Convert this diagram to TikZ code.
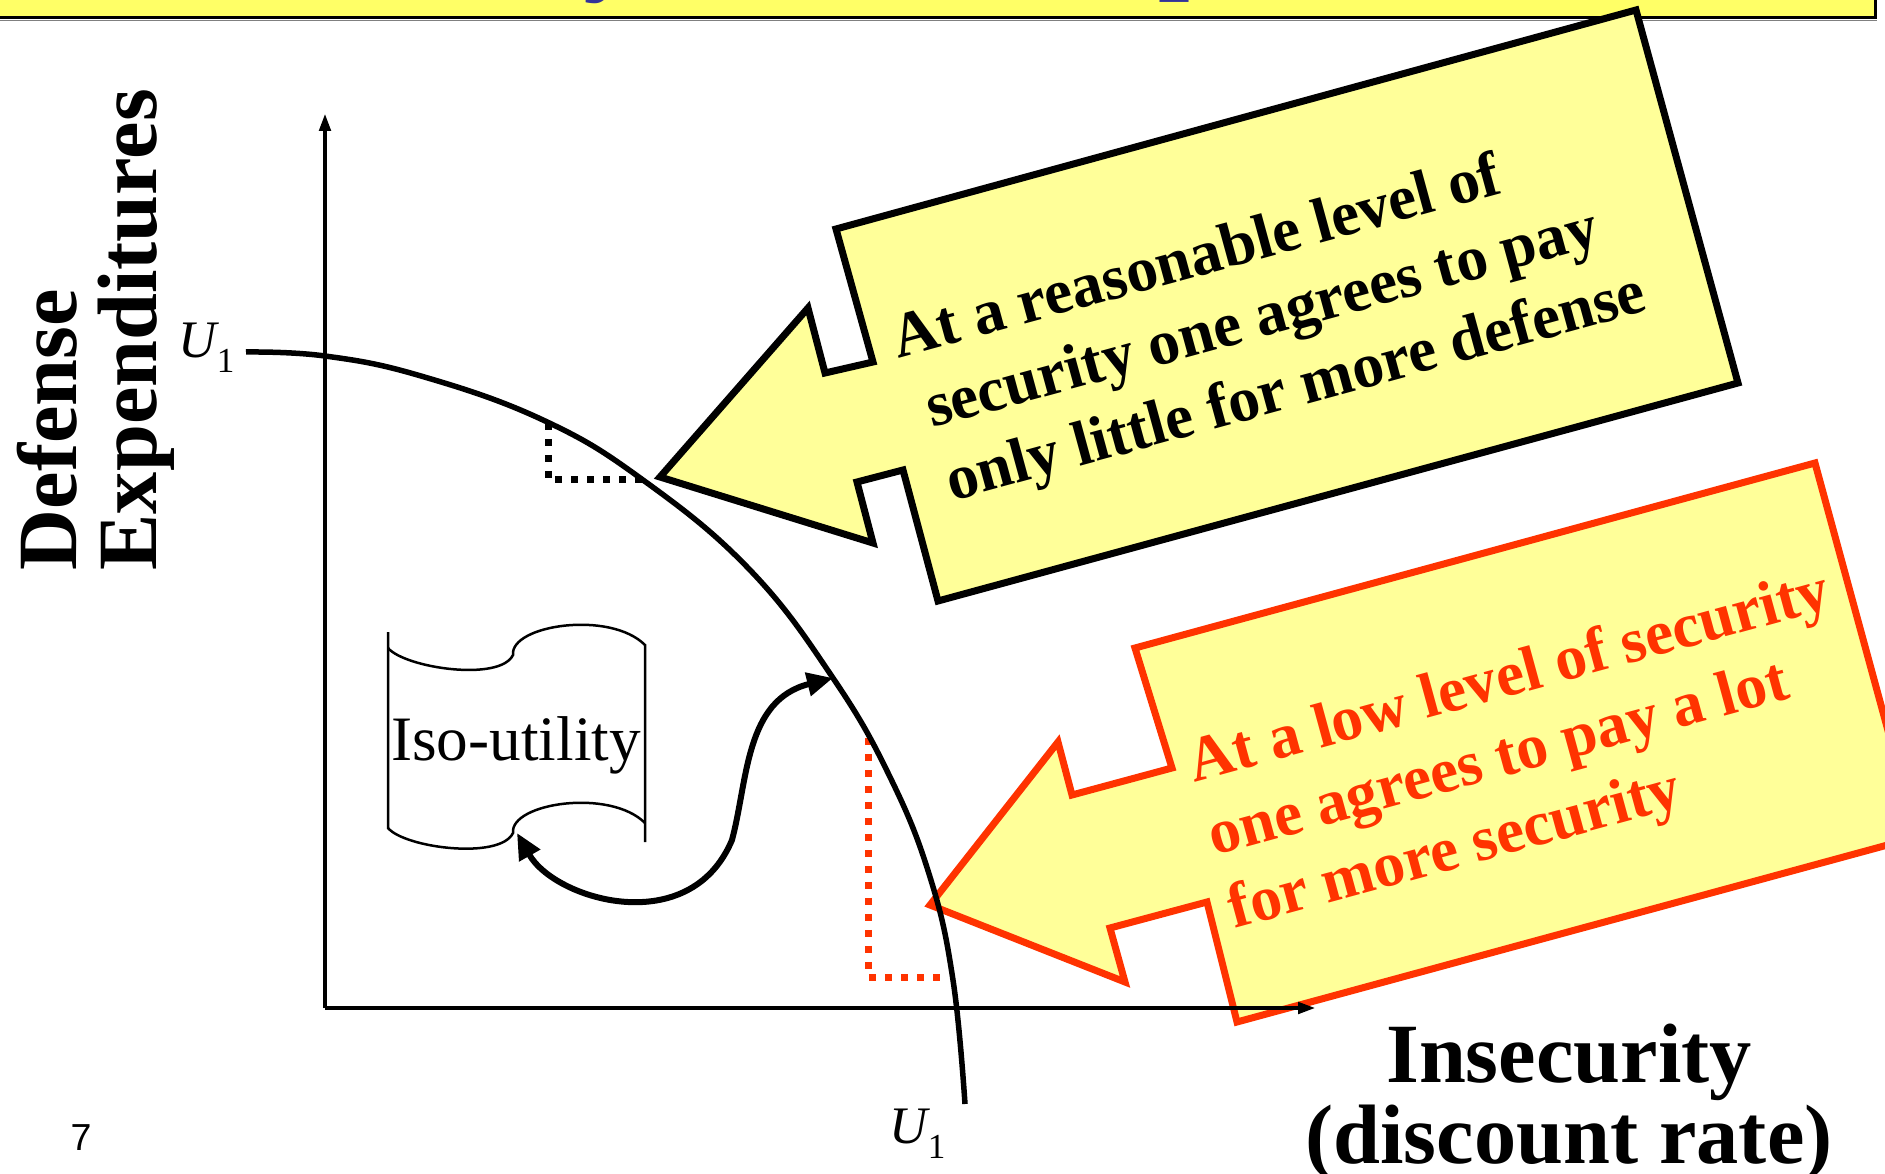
\documentclass[tikz,border=0pt]{standalone}
\usepackage{fontspec}
\setmainfont{Liberation Serif}
\newfontfamily\slidesans{Liberation Sans}
\usetikzlibrary{arrows.meta, positioning}
\definecolor{bannerylw}{HTML}{FFFF66}
\definecolor{calloutylw}{HTML}{FFFF99}
\definecolor{myred}{HTML}{FF3300}
\definecolor{myblue}{HTML}{333399}
\tikzset{
  axis/.style={line width=0.45mm, -{Triangle[length=1.8mm, width=1.1mm]}},
  isocurve/.style={line width=0.55mm},
  marker/.style={line width=0.7mm, dash pattern=on 0.7mm off 0.9mm},
  callout/.style={line width=0.7mm, fill=calloutylw, line join=miter},
  callouttext/.style={rotate=15.3, anchor=north west, align=left, inner sep=0pt,
    font=\bfseries\fontsize{18}{21.6}\selectfont},
  bigbold/.style={inner sep=0pt, font=\bfseries\fontsize{24}{23}\selectfont},
  ulabel/.style={anchor=base west, inner sep=0pt, font=\fontsize{15}{18}\selectfont},
  titlebit/.style={anchor=base, text=myblue, font=\bfseries\fontsize{32}{32}\selectfont},
  scroll/.style={line width=0.25mm},
  linkarrow/.style={line width=0.6mm,
    {Triangle[length=2.6mm, width=2.3mm]}-{Triangle[length=2.6mm, width=2.3mm]}}
}

\begin{document}
\begin{tikzpicture}[x=0.1mm, y=-0.1mm]
  \useasboundingbox (0,0) rectangle (1885,1174);

  % ── Title banner (cut off at the top) ─────────────────────────────────────
  \fill[bannerylw] (0,0) rectangle (1875,18);
  \begin{scope}
    \clip (0,0) rectangle (1875,18);
    \node[titlebit] (titley) at (612,-20) {y};
    \node[titlebit] (titlep) at (1190,-21) {p};
  \end{scope}
  \draw[line width=0.3mm] (0,18) -- (1875,18) -- (1875,0);
  \draw[gray, line width=0.15mm] (0,20.5) -- (1877,20.5);

  % ── Callouts ─────────────────────────────────────────────────────────────
  \draw[callout] (836,229) -- (1636,10) -- (1738,383) -- (938,601) -- (903,470)
    -- (857,482) -- (873,543) -- (660,477) -- (808,308) -- (825,373) -- (873,362) -- cycle;
  \node[callouttext] (reasonable) at (882,316)
    {\hspace*{0.4mm}At a reasonable level of\\\hspace*{1.8mm}security one agrees to pay\\\hspace*{1.8mm}only little for more defense};

  \draw[callout, draw=myred] (1135,648) -- (1815,463) -- (1917,837) -- (1237,1022) -- (1207,902)
    -- (1110,928) -- (1125,982) -- (930,905) -- (1058,742) -- (1072,795) -- (1172,768) -- cycle;
  \node[callouttext, text=myred] (lowlevel) at (1182,739)
    {At a low level of security\\one agrees to pay a lot\\for more security};

  % ── Right-angle markers ──────────────────────────────────────────────────
  \draw[marker] (548,423) -- (548,480) -- (643,480);
  \draw[marker, myred] (868,738) -- (868,977) -- (947,977);

  % ── Axes ─────────────────────────────────────────────────────────────────
  \coordinate (O) at (325,1008);
  \coordinate (ytop) at (325,113);
  \coordinate (xend) at (1316,1008);
  \draw[axis] (O) -- (ytop);
  \draw[axis] (O) -- (xend);

  % Iso-utility curve
  \draw[isocurve] plot[smooth, tension=0.7] coordinates {(246,352) (325,356) (421,376)
    (543,420) (643,480) (750,570) (833,678) (890,777) (930,877) (953,980) (965,1104)};
  \coordinate (curvept) at (833,678);

  % ── Scroll ───────────────────────────────────────────────────────────────
  \draw[scroll] (388,632) -- (388,828) .. controls (405,848) and (500,860) .. (513,833)
    .. controls (510,803) and (610,788) .. (645,823);
  \draw[scroll] (388,648) .. controls (405,668) and (500,682) .. (513,655)
    .. controls (510,625) and (610,610) .. (645,645) -- (645,842);
  \node[anchor=base, inner sep=0pt, font=\fontsize{18}{20}\selectfont] (isoutility) at (516,760) {Iso-utility};
  \coordinate (scrollhook) at (517,833);

  \draw[linkarrow] (scrollhook) .. controls (555,900) and (690,940) .. (732,840)
    .. controls (748,780) and (745,700) .. (curvept);

  % ── Labels ───────────────────────────────────────────────────────────────
  \node[bigbold, rotate=90, align=left, anchor=north west] (ylabel) at (16,571) {Defense\\Expenditures};
  \node[bigbold, align=center, anchor=north] (xlabel) at (1569,1023) {Insecurity\\(discount rate)};
  \node[ulabel] (utop) at (178,358) {\itshape U\upshape\raisebox{-1.5mm}{\fontsize{10}{12}\selectfont 1}};
  \node[ulabel] (ubottom) at (889,1143) {\itshape U\upshape\raisebox{-1.5mm}{\fontsize{10}{12}\selectfont 1}};
  \node[anchor=base, inner sep=0pt, font=\slidesans\fontsize{10.7}{12}\selectfont] (slideno) at (81,1150) {7};
\end{tikzpicture}
\end{document}
